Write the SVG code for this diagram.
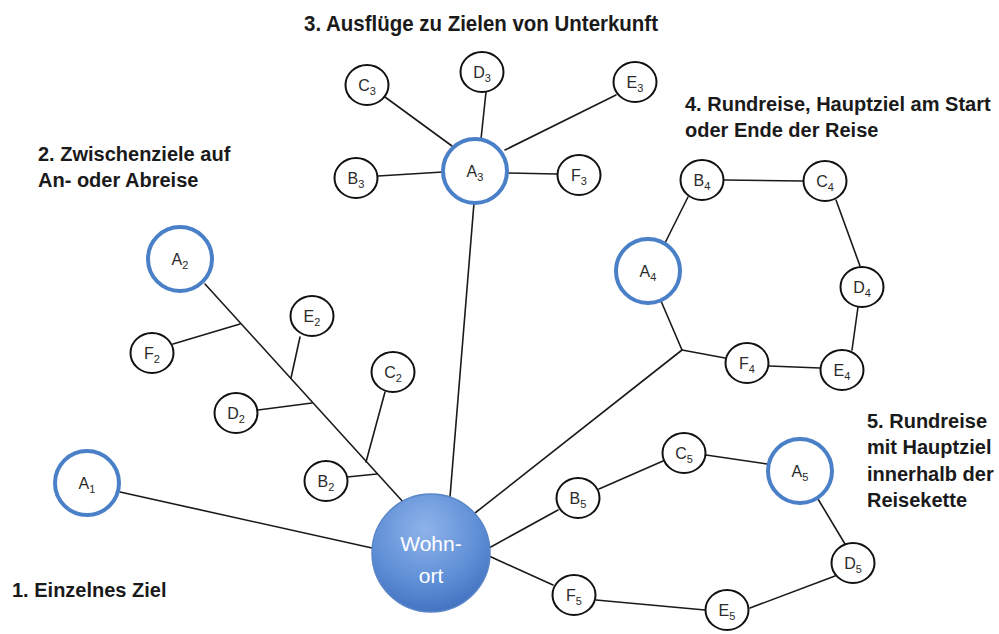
<svg xmlns="http://www.w3.org/2000/svg" width="999" height="634" viewBox="0 0 999 634">
<defs>
<radialGradient id="wg" cx="0.45" cy="0.3" r="0.75">
<stop offset="0" stop-color="#8fb3ea"/>
<stop offset="0.6" stop-color="#5f8fd6"/>
<stop offset="1" stop-color="#3f6fbd"/>
</radialGradient>
<style>
.ln{stroke:#1a1a1a;stroke-width:1.6;fill:none;stroke-linecap:round}
.sm{fill:#fff;stroke:#111;stroke-width:2}
.bg{fill:#fff;stroke:#4a80c8;stroke-width:4}
.lbl{font-family:"Liberation Sans",Arial,sans-serif;font-size:16px;fill:#2a2a2a;text-anchor:middle}
.sub{font-size:11px}
.ttl{font-family:"Liberation Sans",Arial,sans-serif;font-size:20px;font-weight:bold;fill:#1a1a1a}
.wt{font-family:"Liberation Sans",Arial,sans-serif;font-size:21px;fill:#fff;text-anchor:middle}
</style>
</defs>
<rect width="999" height="634" fill="#fff"/>
<g id="connectors">
<path class="ln" d="M120,492 L372,548"/>
<path class="ln" d="M205,284 L404,503"/>
<path class="ln" d="M173,344 L240,324"/>
<path class="ln" d="M300,337 L291,378"/>
<path class="ln" d="M258,410 L312,403"/>
<path class="ln" d="M385,392 L366,462"/>
<path class="ln" d="M347,477 L377,474"/>
<path class="ln" d="M474,203 L450,497"/>
<path class="ln" d="M385,97 L452,146"/>
<path class="ln" d="M486,92 L481,139"/>
<path class="ln" d="M616,95 L505,150"/>
<path class="ln" d="M378,176 L443,172"/>
<path class="ln" d="M507,173 L557,174"/>
<path class="ln" d="M475,513 L682,350"/>
<path class="ln" d="M661,301 L682,350"/>
<path class="ln" d="M725,358 L682,350"/>
<path class="ln" d="M688,197 L665,243"/>
<path class="ln" d="M724,180 L803,181"/>
<path class="ln" d="M836,200 L860,266"/>
<path class="ln" d="M858,307 L852,350"/>
<path class="ln" d="M769,366 L820,368"/>
<path class="ln" d="M489,548 L558,510"/>
<path class="ln" d="M599,489 L663,461"/>
<path class="ln" d="M706,455 L767,464"/>
<path class="ln" d="M818,499 L845,544"/>
<path class="ln" d="M835,576 L750,608"/>
<path class="ln" d="M705,610 L596,600"/>
<path class="ln" d="M553,585 L489,556"/>
</g>
<g id="wohnort">
<circle cx="431" cy="553" r="59" fill="url(#wg)" stroke="#5a86c8" stroke-width="1.5"/>
<text class="wt" x="431" y="551">Wohn-</text>
<text class="wt" x="431" y="583">ort</text>
</g>
<g id="A1"><circle class="bg" cx="87" cy="483" r="32"/><text class="lbl" x="87" y="489">A<tspan class="sub" dy="4">1</tspan></text></g>
<g id="A2"><circle class="bg" cx="180" cy="259" r="32"/><text class="lbl" x="180" y="265">A<tspan class="sub" dy="4">2</tspan></text></g>
<g id="A3"><circle class="bg" cx="475" cy="171" r="32"/><text class="lbl" x="475" y="177">A<tspan class="sub" dy="4">3</tspan></text></g>
<g id="A4"><circle class="bg" cx="648" cy="271" r="32"/><text class="lbl" x="648" y="277">A<tspan class="sub" dy="4">4</tspan></text></g>
<g id="A5"><circle class="bg" cx="800" cy="471" r="32"/><text class="lbl" x="800" y="477">A<tspan class="sub" dy="4">5</tspan></text></g>
<g id="F2"><ellipse class="sm" cx="152" cy="353" rx="21.5" ry="20"/><text class="lbl" x="152" y="359">F<tspan class="sub" dy="4">2</tspan></text></g>
<g id="E2"><ellipse class="sm" cx="312" cy="316" rx="21.5" ry="20"/><text class="lbl" x="312" y="322">E<tspan class="sub" dy="4">2</tspan></text></g>
<g id="D2"><ellipse class="sm" cx="236" cy="413" rx="21.5" ry="20"/><text class="lbl" x="236" y="419">D<tspan class="sub" dy="4">2</tspan></text></g>
<g id="C2"><ellipse class="sm" cx="393" cy="372" rx="21.5" ry="20"/><text class="lbl" x="393" y="378">C<tspan class="sub" dy="4">2</tspan></text></g>
<g id="B2"><ellipse class="sm" cx="326" cy="481" rx="21.5" ry="20"/><text class="lbl" x="326" y="487">B<tspan class="sub" dy="4">2</tspan></text></g>
<g id="C3"><ellipse class="sm" cx="367" cy="85" rx="21.5" ry="20"/><text class="lbl" x="367" y="91">C<tspan class="sub" dy="4">3</tspan></text></g>
<g id="D3"><ellipse class="sm" cx="482" cy="72" rx="21.5" ry="20"/><text class="lbl" x="482" y="78">D<tspan class="sub" dy="4">3</tspan></text></g>
<g id="E3"><ellipse class="sm" cx="635" cy="82" rx="21.5" ry="20"/><text class="lbl" x="635" y="88">E<tspan class="sub" dy="4">3</tspan></text></g>
<g id="B3"><ellipse class="sm" cx="356" cy="178" rx="21.5" ry="20"/><text class="lbl" x="356" y="184">B<tspan class="sub" dy="4">3</tspan></text></g>
<g id="F3"><ellipse class="sm" cx="579" cy="175" rx="21.5" ry="20"/><text class="lbl" x="579" y="181">F<tspan class="sub" dy="4">3</tspan></text></g>
<g id="B4"><ellipse class="sm" cx="702" cy="180" rx="21.5" ry="20"/><text class="lbl" x="702" y="186">B<tspan class="sub" dy="4">4</tspan></text></g>
<g id="C4"><ellipse class="sm" cx="825" cy="181" rx="21.5" ry="20"/><text class="lbl" x="825" y="187">C<tspan class="sub" dy="4">4</tspan></text></g>
<g id="D4"><ellipse class="sm" cx="862" cy="287" rx="21.5" ry="20"/><text class="lbl" x="862" y="293">D<tspan class="sub" dy="4">4</tspan></text></g>
<g id="E4"><ellipse class="sm" cx="842" cy="370" rx="21.5" ry="20"/><text class="lbl" x="842" y="376">E<tspan class="sub" dy="4">4</tspan></text></g>
<g id="F4"><ellipse class="sm" cx="747" cy="363" rx="21.5" ry="20"/><text class="lbl" x="747" y="369">F<tspan class="sub" dy="4">4</tspan></text></g>
<g id="B5"><ellipse class="sm" cx="578" cy="498" rx="21.5" ry="20"/><text class="lbl" x="578" y="504">B<tspan class="sub" dy="4">5</tspan></text></g>
<g id="C5"><ellipse class="sm" cx="684" cy="453" rx="21.5" ry="20"/><text class="lbl" x="684" y="459">C<tspan class="sub" dy="4">5</tspan></text></g>
<g id="D5"><ellipse class="sm" cx="853" cy="563" rx="21.5" ry="20"/><text class="lbl" x="853" y="569">D<tspan class="sub" dy="4">5</tspan></text></g>
<g id="E5"><ellipse class="sm" cx="727" cy="610" rx="21.5" ry="20"/><text class="lbl" x="727" y="616">E<tspan class="sub" dy="4">5</tspan></text></g>
<g id="F5"><ellipse class="sm" cx="574" cy="595" rx="21.5" ry="20"/><text class="lbl" x="574" y="601">F<tspan class="sub" dy="4">5</tspan></text></g>
<g id="titles">
<text class="ttl" x="304" y="31" font-size="22" textLength="354" lengthAdjust="spacingAndGlyphs" style="font-size:22px">3. Ausflüge zu Zielen von Unterkunft</text>
<text class="ttl" x="38" y="161">2. Zwischenziele auf</text>
<text class="ttl" x="38" y="187">An- oder Abreise</text>
<text class="ttl" x="685" y="111">4. Rundreise, Hauptziel am Start</text>
<text class="ttl" x="685" y="137">oder Ende der Reise</text>
<text class="ttl" x="867" y="428">5. Rundreise</text>
<text class="ttl" x="867" y="454">mit Hauptziel</text>
<text class="ttl" x="867" y="481">innerhalb der</text>
<text class="ttl" x="867" y="507">Reisekette</text>
<text class="ttl" x="12" y="597">1. Einzelnes Ziel</text>
</g>
</svg>
